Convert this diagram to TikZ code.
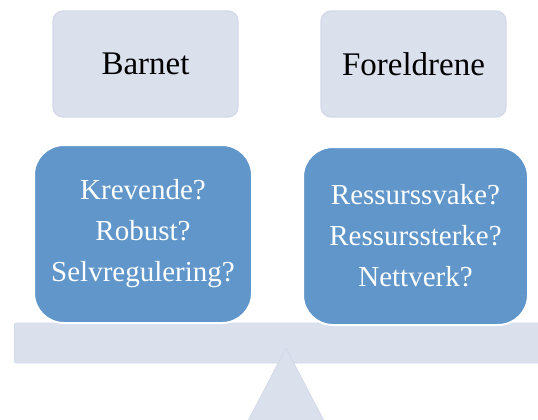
\documentclass[tikz,border=0pt]{standalone}
\usepackage{fontspec}
\setmainfont{Liberation Serif}
\definecolor{lightfill}{RGB}{219,224,237}
\definecolor{lightedge}{RGB}{211,217,233}
\definecolor{boxblue}{RGB}{96,150,201}
\begin{document}
\begin{tikzpicture}[x=1pt,y=-1pt,
  topbox/.style={draw=lightedge, line width=1.2pt, fill=lightfill, rounded corners=10pt,
    minimum width=185pt, minimum height=106pt, inner sep=0pt,
    font=\fontsize{33}{38}\selectfont},
  questionbox/.style={draw=white, line width=2pt, fill=boxblue, rounded corners=30pt,
    minimum height=178pt, inner sep=0pt, align=center, text=white,
    font=\fontsize{29}{41}\selectfont},
  scalepart/.style={fill=lightfill, draw=lightedge, line width=0.8pt}]
\useasboundingbox (0,0) rectangle (538,420);
% beam of the scale
\node[scalepart, rectangle, rounded corners=2pt, minimum width=530pt, minimum height=40pt, inner sep=0pt, anchor=west] (beam) at (14,343) {};
% fulcrum
\path[scalepart] (286,348) -- (324,421) -- (248,421) -- cycle;
% top boxes
\node[topbox] (barnet) at (145.5,64) {Barnet};
\node[topbox] (foreldrene) at (413.5,64) {Foreldrene};
% question boxes
\node[questionbox, minimum width=218pt] (barn) at (143,234) {Krevende?\\Robust?\\Selvregulering?};
\node[questionbox, minimum width=225pt] (foreldre) at (415.5,236) {Ressurssvake?\\Ressurssterke?\\Nettverk?};
\end{tikzpicture}
\end{document}
